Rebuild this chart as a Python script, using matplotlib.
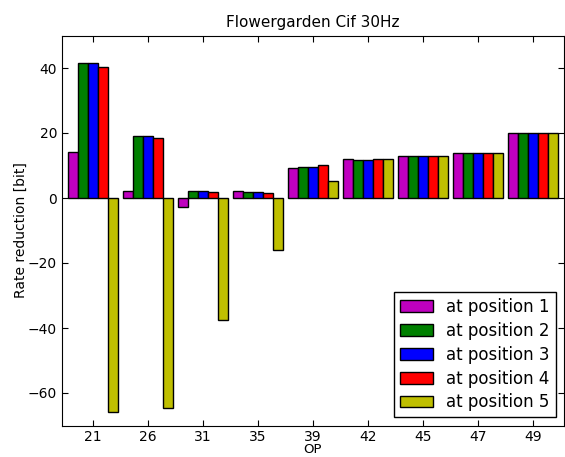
import matplotlib
matplotlib.use("Agg")
import matplotlib.pyplot as plt
import numpy as np

categories = ["21", "26", "31", "35", "39", "42", "45", "47", "49"]
pos1 = [14.2, 2.1, -2.9, 2.1, 9.2, 12.0, 13.0, 13.7, 20.1]
pos2 = [41.4, 19.2, 2.1, 1.8, 9.5, 11.7, 13.0, 13.7, 20.1]
pos3 = [41.4, 19.2, 2.1, 1.8, 9.5, 11.7, 13.0, 13.7, 20.1]
pos4 = [40.2, 18.6, 1.75, 1.5, 10.2, 12.0, 13.0, 13.7, 20.1]
pos5 = [-65.7, -64.7, -37.6, -16.1, 5.3, 12.1, 13.0, 13.7, 20.1]
series = [pos1, pos2, pos3, pos4, pos5]
labels = ["at position 1", "at position 2", "at position 3", "at position 4", "at position 5"]
colors = ["m", "g", "b", "r", (0.75, 0.75, 0)]

fig = plt.figure(figsize=(5.65, 4.57), dpi=100)
ax = fig.add_axes([62/565, 1-425.5/457, (564-62)/565, (425.5-35.5)/457])

x = np.arange(len(categories))
w = 0.18
for k, (vals, lab, c) in enumerate(zip(series, labels, colors)):
    ax.bar(x + (k - 2) * w, vals, width=w, color=c, edgecolor="black", linewidth=1, label=lab)

ax.set_xlim(-0.56, 8.56)
ax.set_ylim(-70, 50)
ax.set_yticks([-60, -40, -20, 0, 20, 40])
ax.set_xticks(x)
ax.set_xticklabels(categories)
ax.tick_params(direction="in", top=True, right=True, length=4, labelsize=10, pad=3.5)
ax.set_title("Flowergarden Cif 30Hz", fontsize=11)
ax.set_xlabel("OP", fontsize=9.5, labelpad=-1)
ax.set_ylabel("Rate reduction [bit]", fontsize=10, labelpad=0)
leg = ax.legend(loc="lower right", fontsize=12, fancybox=False, framealpha=1,
                edgecolor="black", borderaxespad=0.5, handlelength=2.0,
                labelspacing=0.35, borderpad=0.35)
leg.get_frame().set_linewidth(1)

fig.savefig("out.png", dpi=100)
